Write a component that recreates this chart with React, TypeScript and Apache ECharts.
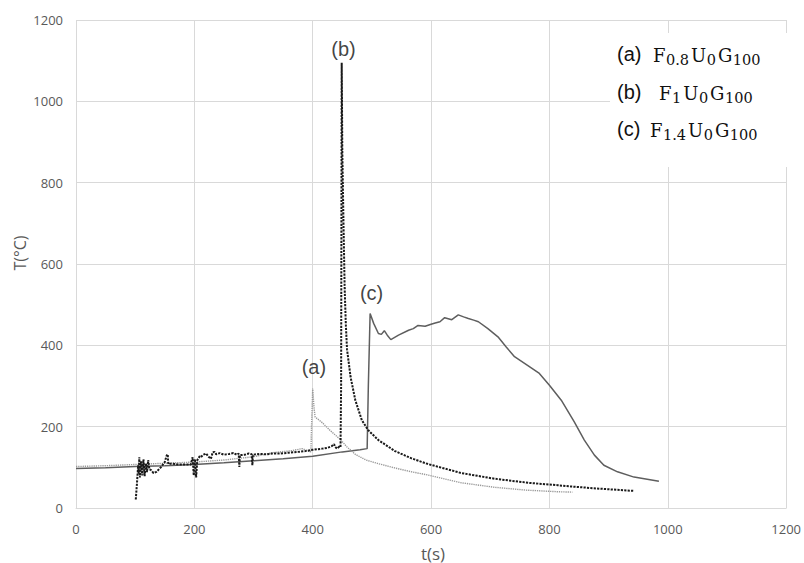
import React, { useEffect, useRef } from "react";
import * as echarts from "echarts";

// ---- data ----
const xTickValues = [0, 200, 400, 600, 800, 1000, 1200];
const yTickValues = [0, 200, 400, 600, 800, 1000, 1200];

// (a) F0.8U0G100 – light grey dotted
const aTime = [0, 50, 100, 150, 200, 250, 300, 332, 365, 382, 393, 397, 398, 400, 402, 404, 416, 430, 444, 450, 458, 472, 490, 511, 540, 567, 595, 651, 707, 760, 814, 839];
const aTemp = [102, 104, 107, 110, 113, 118, 126, 136, 141, 146, 140, 138, 200, 294, 250, 224, 210, 190, 172, 163, 150, 132, 118, 109, 98, 89, 81, 62, 51, 44, 40, 39];

// (b) F1U0G100 – black dashed
const bTime = [101, 103, 105, 106, 107, 108, 110, 112, 114, 116, 118, 120, 122, 124, 127, 131, 136, 144, 150, 153, 155, 156, 160, 175, 194, 197, 199, 201, 203, 205, 209, 211, 215, 220, 224, 228, 231, 234, 237, 243, 250, 259, 266, 272, 275, 276, 277, 285, 292, 297, 298, 299, 310, 321, 332, 345, 360, 375, 388, 400, 416, 425, 432, 436, 438, 441, 445, 447, 448, 449, 450, 452, 454, 456, 458, 464, 472, 483, 494, 511, 539, 567, 595, 651, 707, 764, 814, 836, 880, 943];
const bTemp = [21, 60, 105, 85, 125, 75, 115, 80, 120, 78, 110, 88, 118, 95, 93, 86, 89, 101, 113, 128, 132, 108, 109, 107, 107, 125, 80, 120, 75, 118, 127, 125, 131, 134, 126, 121, 137, 138, 132, 135, 131, 133, 135, 131, 134, 101, 130, 131, 134, 132, 105, 131, 133, 132, 134, 134, 136, 138, 140, 143, 146, 148, 152, 157, 150, 146, 151, 150, 300, 1095, 880, 700, 540, 450, 390, 322, 265, 216, 191, 167, 140, 122, 108, 86, 72, 62, 56, 53, 48, 42];

// (c) F1.4U0G100 – dark grey solid
const cTime = [0, 50, 100, 150, 200, 250, 300, 350, 400, 450, 480, 492, 494, 497, 503, 511, 516, 521, 526, 532, 545, 562, 570, 578, 590, 600, 607, 615, 623, 635, 646, 655, 663, 672, 680, 696, 713, 727, 741, 763, 783, 800, 820, 842, 859, 876, 892, 915, 943, 985];
const cTemp = [97, 99, 102, 104, 107, 111, 116, 121, 127, 138, 143, 146, 300, 478, 454, 429, 427, 436, 425, 414, 425, 437, 441, 449, 447, 452, 455, 458, 468, 463, 475, 470, 466, 462, 458, 441, 421, 396, 372, 351, 331, 302, 265, 212, 167, 130, 105, 89, 76, 66];

// annotation labels placed in data coordinates
const noteLabels = ["(a)", "(b)", "(c)"];
const noteTime = [402, 452, 499.5];
const noteTemp = [346, 1129, 528];

// legend
const legendTags = ["(a)", "(b)", "(c)"];
const legendFormulas = [
  "{n|F}{s|0.8}{n|U}{s|0}{n|G}{s|100}",
  "{n|F}{s|1}{n|U}{s|0}{n|G}{s|100}",
  "{n|F}{s|1.4}{n|U}{s|0}{n|G}{s|100}",
];

const zip = (t: number[], v: number[]) => t.map((x, i) => [x, v[i]]);

export default function App() {
  const ref = useRef<HTMLDivElement>(null);
  useEffect(() => {
    if (!ref.current) return;
    const chart = echarts.init(ref.current, null, { renderer: "svg" });
    const labelFont = "'Open Sans', sans-serif";
    const grid = "#d9d9d9";
    const rowY = [54, 92, 129];
    const tagX = 617;
    const formulaX = [652, 658, 649];
    const rich = {
      n: { fontFamily: "DejaVu Serif", fontSize: 18, lineHeight: 24, fill: "#111", padding: [0, 0, 0, 1] },
      s: { fontFamily: "DejaVu Serif", fontSize: 14.5, lineHeight: 13, verticalAlign: "bottom", fill: "#111", padding: [0, 1, 0, 0.5] },
    };
    const legendEls: any[] = [
      { type: "rect", shape: { x: 610, y: 33, width: 186, height: 134 }, style: { fill: "#fff" }, z: 10 },
    ];
    legendTags.forEach((tag, i) => {
      legendEls.push({
        type: "text", x: tagX, y: rowY[i], z: 11,
        style: { text: tag, fill: "#111", font: "20px 'Liberation Sans', Arial, sans-serif", verticalAlign: "middle", align: "left" },
      });
      legendEls.push({
        type: "text", x: formulaX[i], y: rowY[i] + 1, z: 11,
        style: { text: legendFormulas[i], rich, verticalAlign: "middle", align: "left" },
      });
    });

    chart.setOption({
      animation: false,
      backgroundColor: "#fff",
      grid: { left: 76, right: 14, top: 20, bottom: 55 },
      xAxis: {
        type: "value", min: xTickValues[0], max: xTickValues[xTickValues.length - 1], interval: 200,
        axisLine: { show: true, lineStyle: { color: grid, width: 1 } },
        axisTick: { show: false },
        splitLine: { show: true, lineStyle: { color: grid, width: 1 } },
        axisLabel: { color: "#595959", fontSize: 13, fontFamily: labelFont, margin: 14, formatter: (v: number) => String(v) },
      },
      yAxis: {
        type: "value", min: yTickValues[0], max: yTickValues[yTickValues.length - 1], interval: 200,
        axisLine: { show: false },
        axisTick: { show: false },
        splitLine: { show: true, lineStyle: { color: grid, width: 1 } },
        axisLabel: { color: "#595959", fontSize: 13, fontFamily: labelFont, margin: 13, formatter: (v: number) => String(v) },
      },
      graphic: [
        { type: "text", x: 433, y: 553, style: { text: "t(s)", fill: "#595959", font: "17px 'Open Sans', sans-serif", align: "center", verticalAlign: "middle" } },
        { type: "text", x: 20, y: 253, rotation: Math.PI / 2, style: { text: "T(°C)", fill: "#595959", font: "16px 'Open Sans', sans-serif", align: "center", verticalAlign: "middle" } },
        ...legendEls,
      ],
      series: [
        {
          type: "line", name: "c", data: zip(cTime, cTemp), showSymbol: false, symbol: "none",
          lineStyle: { color: "#5e5e5e", width: 1.5 }, z: 2,
        },
        {
          type: "line", name: "a", data: zip(aTime, aTemp), showSymbol: false, symbol: "none",
          lineStyle: { color: "#9a9a9a", width: 1.4, type: [1.3, 0.9] }, z: 3,
        },
        {
          type: "line", name: "b", data: zip(bTime, bTemp), showSymbol: false, symbol: "none",
          lineStyle: { color: "#1a1a1a", width: 2, type: [2.2, 1.2] }, z: 4,
        },
        {
          type: "scatter", name: "notes", symbolSize: 0, z: 5,
          data: noteLabels.map((l, i) => ({ value: [noteTime[i], noteTemp[i]], name: l })),
          label: {
            show: true, position: "inside", formatter: (p: any) => p.name,
            color: "#111", fontSize: 20, fontFamily: "'Liberation Sans', Arial, sans-serif",
          },
        },
      ],
    });
    return () => chart.dispose();
  }, []);
  return <div ref={ref} style={{ position: "fixed", left: 0, top: 0, width: 804, height: 563, background: "#fff" }} />;
}
